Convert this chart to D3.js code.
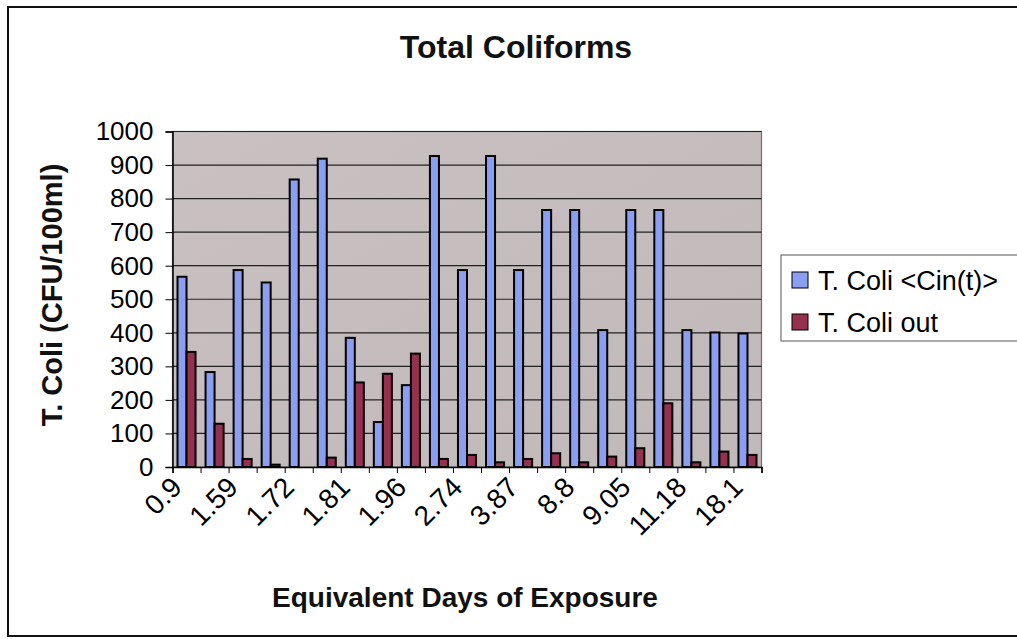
<!DOCTYPE html>
<html>
<head>
<meta charset="utf-8">
<script src="https://cdn.jsdelivr.net/npm/d3@7"></script>
<style>
  html, body { margin: 0; padding: 0; background: #ffffff; }
  svg { display: block; font-family: "Liberation Sans", Arial, sans-serif; }
</style>
</head>
<body>
<svg id="chart" width="1017" height="639"></svg>
<script>
// ---- data ----
const categories = ["0.9", "", "1.59", "", "1.72", "", "1.81", "", "1.96", "", "2.74", "", "3.87", "", "8.8", "", "9.05", "", "11.18", "", "18.1"];
const seriesNames = ["T. Coli <Cin(t)>", "T. Coli out"];
const cinValues = [567, 283, 587, 550, 857, 919, 385, 134, 244, 927, 587, 927, 587, 766, 766, 408, 766, 766, 408, 401, 398];
const outValues = [343, 129, 24, 7, 0, 28, 252, 278, 338, 24, 36, 14, 24, 41, 14, 31, 56, 190, 14, 46, 36];
const yTicks = [0, 100, 200, 300, 400, 500, 600, 700, 800, 900, 1000];
const seriesColors = ["#8a9ef2", "#96304f"];

// ---- layout ----
const svg = d3.select("#chart");
const plot = { left: 172.5, right: 761.5, top: 131.5, bottom: 467 };

// outer frame
svg.append("rect").attr("x", 8).attr("y", 7).attr("width", 1030).attr("height", 629)
  .attr("fill", "#ffffff").attr("stroke", "#111").attr("stroke-width", 2);

const idx = d3.range(categories.length);
const x = d3.scaleBand().domain(idx).range([plot.left, plot.right]).padding(0);
const bw = x.bandwidth();
const xSub = d3.scaleBand().domain([0, 1]).range([5, bw - 5]).padding(0);
const y = d3.scaleLinear().domain([0, 1000]).range([plot.bottom, plot.top]);

// plot background
const defs = svg.append("defs");
const grad = defs.append("linearGradient").attr("id", "bg").attr("x1", 0).attr("y1", 0).attr("x2", 1).attr("y2", 1);
grad.append("stop").attr("offset", "0%").attr("stop-color", "#c9c0c2");
grad.append("stop").attr("offset", "100%").attr("stop-color", "#c1b8ba");
svg.append("rect").attr("x", plot.left).attr("y", plot.top)
  .attr("width", plot.right - plot.left).attr("height", plot.bottom - plot.top)
  .attr("fill", "url(#bg)").attr("stroke", "#6f6f6f").attr("stroke-width", 1.2);

// gridlines
svg.append("g").selectAll("line").data(yTicks.filter(d => d > 0)).join("line")
  .attr("x1", plot.left).attr("x2", plot.right)
  .attr("y1", d => y(d)).attr("y2", d => y(d))
  .attr("stroke", "#222").attr("stroke-width", 1.2);

// bars
const series = [cinValues, outValues];
series.forEach((vals, s) => {
  svg.append("g").selectAll("rect").data(vals).join("rect")
    .attr("x", (d, i) => x(i) + xSub(s))
    .attr("y", d => y(d))
    .attr("width", xSub.bandwidth())
    .attr("height", d => y(0) - y(d))
    .attr("fill", seriesColors[s])
    .attr("stroke", "#000").attr("stroke-width", 2);
});

// y axis
const yAxis = svg.append("g").attr("transform", `translate(${plot.left},0)`)
  .call(d3.axisLeft(y).tickValues(yTicks).tickSize(7).tickPadding(12).tickFormat(d3.format("d")));
yAxis.select(".domain").attr("stroke", "#000").attr("stroke-width", 1.5);
yAxis.selectAll(".tick line").attr("stroke", "#000");
yAxis.selectAll("text").attr("font-size", 26).attr("fill", "#000")
  .attr("font-family", "'Liberation Sans', Arial, sans-serif");

// x axis (ticks at category boundaries)
const xb = d3.scaleLinear().domain([0, categories.length]).range([plot.left, plot.right]);
const xAxis = svg.append("g").attr("transform", `translate(0,${plot.bottom})`)
  .call(d3.axisBottom(xb).tickValues(d3.range(categories.length + 1)).tickSize(6).tickFormat(""));
xAxis.select(".domain").attr("stroke", "#000").attr("stroke-width", 1.5);
xAxis.selectAll(".tick line").attr("stroke", "#000");

// x tick labels (rotated)
svg.append("g").selectAll("text").data(idx.filter(i => categories[i] !== "")).join("text")
  .attr("transform", i => `translate(${x(i) + bw / 2 - 3},${plot.bottom + 22}) rotate(-45)`)
  .attr("text-anchor", "end")
  .attr("font-size", 28).attr("fill", "#000")
  .text(i => categories[i]);

// title
svg.append("text").attr("x", 516).attr("y", 58).attr("text-anchor", "middle")
  .attr("font-size", 32).attr("font-weight", "bold").attr("fill", "#111")
  .text("Total Coliforms");

// axis titles
svg.append("text").attr("x", 465).attr("y", 607).attr("text-anchor", "middle")
  .attr("font-size", 28).attr("font-weight", "bold").attr("fill", "#111")
  .text("Equivalent Days of Exposure");
svg.append("text").attr("transform", "translate(62,295) rotate(-90)").attr("text-anchor", "middle")
  .attr("font-size", 29).attr("font-weight", "bold").attr("fill", "#111")
  .text("T. Coli (CFU/100ml)");

// legend
const lg = svg.append("g");
lg.append("rect").attr("x", 781).attr("y", 255).attr("width", 260).attr("height", 86)
  .attr("fill", "#fff").attr("stroke", "#555").attr("stroke-width", 1);
seriesNames.forEach((name, i) => {
  const cy = 280 + i * 42;
  lg.append("rect").attr("x", 792).attr("y", cy - 8).attr("width", 16).attr("height", 16)
    .attr("fill", seriesColors[i]).attr("stroke", "#000").attr("stroke-width", 1);
  lg.append("text").attr("x", 818).attr("y", cy + 10).attr("font-size", 27).attr("fill", "#000")
    .text(name);
});
</script>
</body>
</html>
